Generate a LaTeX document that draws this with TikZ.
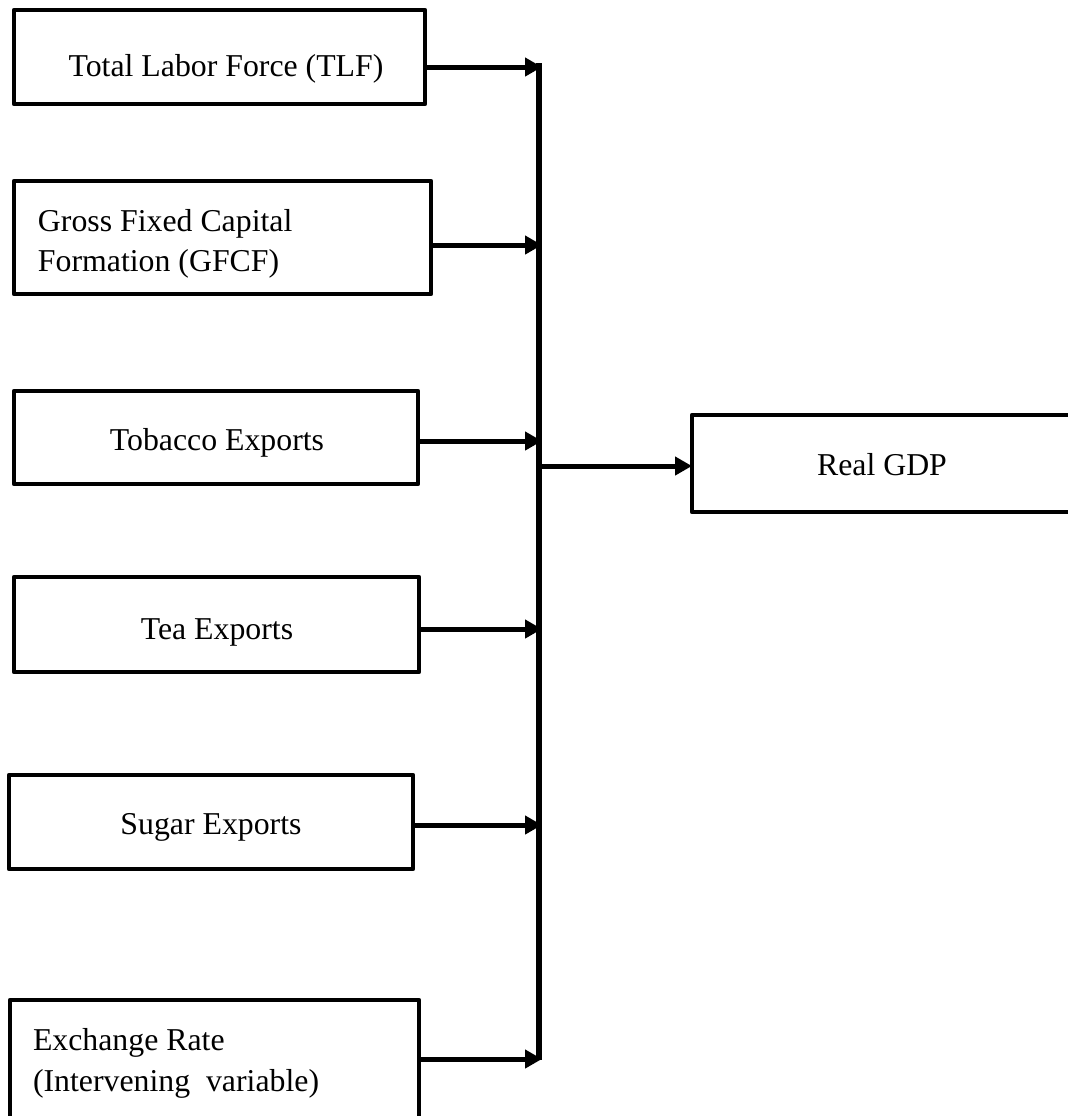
\documentclass[tikz,border=0pt]{standalone}
\usepackage{fontspec}
\setmainfont{Liberation Serif}
\usetikzlibrary{arrows.meta}
\begin{document}
\begin{tikzpicture}[x=0.5pt,y=-0.5pt,
  box/.style={draw, line width=2.4pt, line join=round, inner sep=0pt, outer sep=0pt},
  txt/.style={inner sep=0pt, outer sep=0pt, font=\fontsize{15.9pt}{20pt}\selectfont},
  arr/.style={line width=2.5pt, -{Triangle[length=8.5pt,width=9pt]}},
  bus/.style={line width=2.7pt}]
\useasboundingbox (0,0) rectangle (1068,1116);
\clip (0,0) rectangle (1068,1116);

% boxes
\node[box, minimum width=205.5pt, minimum height=47pt]   (tlf)  at (219.5,57)   {};
\node[box, minimum width=208.5pt, minimum height=56.5pt] (gfcf) at (222.5,237.5) {};
\node[box, minimum width=202pt,   minimum height=46.5pt] (tob)  at (216,437.5)  {};
\node[box, minimum width=202.5pt, minimum height=47.5pt] (tea)  at (216.5,624.5) {};
\node[box, minimum width=202pt,   minimum height=47pt]   (sug)  at (211,822)    {};
\node[box, minimum width=204.5pt, minimum height=65pt]   (exr)  at (214.5,1065) {};
\node[box, minimum width=191.5pt, minimum height=48.5pt] (gdp)  at (883.5,463.5) {};

% texts
\node[txt, anchor=base]      (tlft)  at (226,76)   {Total Labor Force (TLF)};
\node[txt, anchor=base west] (gfcfa) at (38,231)   {Gross Fixed Capital};
\node[txt, anchor=base west] (gfcfb) at (38,271)   {Formation (GFCF)};
\node[txt, anchor=base]      (tobt)  at (217,450)  {Tobacco Exports};
\node[txt, anchor=base]      (teat)  at (217,639)  {Tea Exports};
\node[txt, anchor=base]      (sugt)  at (211,834)  {Sugar Exports};
\node[txt, anchor=base west] (exra)  at (33,1050)  {Exchange Rate};
\node[txt, anchor=base west] (exrb)  at (33,1091)  {(Intervening\ \ variable)};
\node[txt, anchor=base]      (gdpt)  at (882,475)  {Real GDP};

% bus coordinates
\coordinate (bt) at (539,63);
\coordinate (bb) at (539,1060);
\coordinate (bo) at (539,466);
\coordinate (b1) at (542,67);
\coordinate (b2) at (542,245);
\coordinate (b3) at (542,441);
\coordinate (b4) at (542,629);
\coordinate (b5) at (542,825);
\coordinate (b6) at (542,1059);

\draw[bus] (bt) -- (bb);
\draw[arr] (tlf.east |- b1)  -- (b1);
\draw[arr] (gfcf.east |- b2) -- (b2);
\draw[arr] (tob.east |- b3)  -- (b3);
\draw[arr] (tea.east |- b4)  -- (b4);
\draw[arr] (sug.east |- b5)  -- (b5);
\draw[arr] (exr.east |- b6)  -- (b6);
\draw[arr] (bo) -- (gdp.west |- bo);
\end{tikzpicture}
\end{document}
